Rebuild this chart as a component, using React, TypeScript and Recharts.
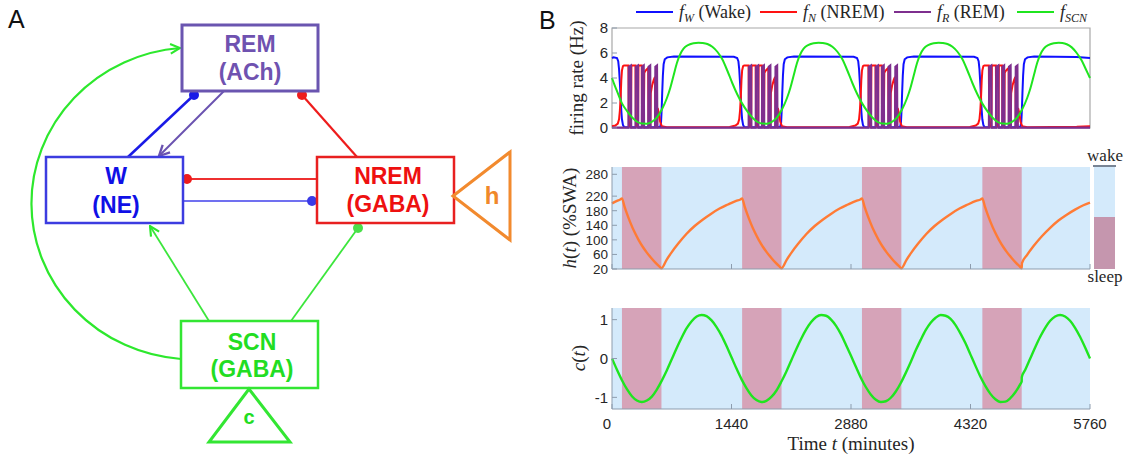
import React from "react";
import { ComposedChart, Line, XAxis, YAxis, ReferenceArea } from "recharts";

// sleep episodes, minutes
const sleepStart = [120, 1568, 3012, 4463];
const sleepEnd = [596, 2043, 3487, 4937];

const timeTicks = [0, 1440, 2880, 4320, 5760];
const rateTicks = [0, 2, 4, 6, 8];
const hTicks = [20, 60, 100, 140, 180, 220, 280];
const cTicks = [-1, 0, 1];

// [t, value]
const fW = [
  [0, 5.6], [20, 5.66], [60, 5.6], [75, 5.35], [85, 4.7], [95, 3.6], [105, 2.3], [112, 1.4], [120, 0.7], [132, 0.25], [145, 0.08],
  [200, 0.06], [215, 0.35], [230, 0.06], [285, 0.06], [300, 0.35], [315, 0.06], [357, 0.06], [372, 0.35], [387, 0.06],
  [435, 0.06], [450, 0.35], [465, 0.06], [517, 0.06], [532, 0.35], [547, 0.06],
  [581, 0.1], [591, 0.45], [598, 1.4], [605, 2.8], [613, 4.2], [622, 5.1], [636, 5.5], [666, 5.65], [746, 5.72], [1468, 5.7],
  [1508, 5.6], [1523, 5.35], [1533, 4.7], [1543, 3.6], [1553, 2.3], [1560, 1.4], [1568, 0.7], [1580, 0.25], [1593, 0.08],
  [1648, 0.06], [1663, 0.35], [1678, 0.06], [1733, 0.06], [1748, 0.35], [1763, 0.06], [1805, 0.06], [1820, 0.35], [1835, 0.06],
  [1883, 0.06], [1898, 0.35], [1913, 0.06], [1965, 0.06], [1980, 0.35], [1995, 0.06],
  [2028, 0.1], [2038, 0.45], [2045, 1.4], [2052, 2.8], [2060, 4.2], [2069, 5.1], [2083, 5.5], [2113, 5.65], [2193, 5.72], [2912, 5.7],
  [2952, 5.6], [2967, 5.35], [2977, 4.7], [2987, 3.6], [2997, 2.3], [3004, 1.4], [3012, 0.7], [3024, 0.25], [3037, 0.08],
  [3092, 0.06], [3107, 0.35], [3122, 0.06], [3177, 0.06], [3192, 0.35], [3207, 0.06], [3249, 0.06], [3264, 0.35], [3279, 0.06],
  [3327, 0.06], [3342, 0.35], [3357, 0.06], [3409, 0.06], [3424, 0.35], [3439, 0.06],
  [3472, 0.1], [3482, 0.45], [3489, 1.4], [3496, 2.8], [3504, 4.2], [3513, 5.1], [3527, 5.5], [3557, 5.65], [3637, 5.72], [4363, 5.7],
  [4403, 5.6], [4418, 5.35], [4428, 4.7], [4438, 3.6], [4448, 2.3], [4455, 1.4], [4463, 0.7], [4475, 0.25], [4488, 0.08],
  [4543, 0.06], [4558, 0.35], [4573, 0.06], [4628, 0.06], [4643, 0.35], [4658, 0.06], [4700, 0.06], [4715, 0.35], [4730, 0.06],
  [4778, 0.06], [4793, 0.35], [4808, 0.06], [4860, 0.06], [4875, 0.35], [4890, 0.06],
  [4922, 0.1], [4932, 0.45], [4939, 1.4], [4946, 2.8], [4954, 4.2], [4963, 5.1], [4977, 5.5], [5007, 5.65], [5087, 5.72],
  [5600, 5.68], [5760, 5.6],
];

const fN = [
  [0, 0.15], [40, 0.2], [70, 0.35], [85, 0.7], [95, 1.4], [105, 2.6], [112, 3.8], [120, 4.6], [132, 4.95], [145, 5.0],
  [198, 5.0], [203, 0.2], [228, 0.1], [234, 4.9], [240, 5.0], [283, 5.0], [288, 0.2], [313, 0.1], [319, 4.9], [325, 5.0],
  [358, 5.0], [363, 0.2], [383, 0.1], [389, 4.4], [400, 4.55], [420, 4.7], [436, 4.8],
  [441, 0.2], [461, 0.1], [467, 2.8], [483, 3.4], [503, 3.85], [518, 4.1],
  [523, 0.15], [543, 0.1], [550, 1.6], [565, 1.2], [580, 0.5], [600, 0.15], [660, 0.06],
  [1418, 0.08], [1488, 0.2], [1518, 0.35], [1533, 0.7], [1543, 1.4], [1553, 2.6], [1560, 3.8], [1568, 4.6], [1580, 4.95], [1593, 5.0],
  [1646, 5.0], [1651, 0.2], [1676, 0.1], [1682, 4.9], [1688, 5.0], [1731, 5.0], [1736, 0.2], [1761, 0.1], [1767, 4.9], [1773, 5.0],
  [1806, 5.0], [1811, 0.2], [1831, 0.1], [1837, 4.4], [1848, 4.55], [1868, 4.7], [1884, 4.8],
  [1889, 0.2], [1909, 0.1], [1915, 2.8], [1931, 3.4], [1951, 3.85], [1966, 4.1],
  [1971, 0.15], [1991, 0.1], [1998, 1.6], [2013, 1.2], [2028, 0.5], [2048, 0.15], [2108, 0.06],
  [2862, 0.08], [2932, 0.2], [2962, 0.35], [2977, 0.7], [2987, 1.4], [2997, 2.6], [3004, 3.8], [3012, 4.6], [3024, 4.95], [3037, 5.0],
  [3090, 5.0], [3095, 0.2], [3120, 0.1], [3126, 4.9], [3132, 5.0], [3175, 5.0], [3180, 0.2], [3205, 0.1], [3211, 4.9], [3217, 5.0],
  [3250, 5.0], [3255, 0.2], [3275, 0.1], [3281, 4.4], [3292, 4.55], [3312, 4.7], [3328, 4.8],
  [3333, 0.2], [3353, 0.1], [3359, 2.8], [3375, 3.4], [3395, 3.85], [3410, 4.1],
  [3415, 0.15], [3435, 0.1], [3442, 1.6], [3457, 1.2], [3472, 0.5], [3492, 0.15], [3552, 0.06],
  [4313, 0.08], [4383, 0.2], [4413, 0.35], [4428, 0.7], [4438, 1.4], [4448, 2.6], [4455, 3.8], [4463, 4.6], [4475, 4.95], [4488, 5.0],
  [4541, 5.0], [4546, 0.2], [4571, 0.1], [4577, 4.9], [4583, 5.0], [4626, 5.0], [4631, 0.2], [4656, 0.1], [4662, 4.9], [4668, 5.0],
  [4701, 5.0], [4706, 0.2], [4726, 0.1], [4732, 4.4], [4743, 4.55], [4763, 4.7], [4779, 4.8],
  [4784, 0.2], [4804, 0.1], [4810, 2.8], [4826, 3.4], [4846, 3.85], [4861, 4.1],
  [4866, 0.15], [4886, 0.1], [4893, 1.6], [4908, 1.2], [4923, 0.5], [4943, 0.15], [5003, 0.06],
  [5600, 0.1], [5760, 0.15],
];

const fR = [
  [0, 0.03],
  [199, 0.03], [203, 4.9], [227, 5.0], [231, 0.03], [284, 0.03], [288, 4.9], [312, 5.0], [316, 0.03],
  [359, 0.03], [363, 4.9], [382, 5.0], [386, 0.03], [437, 0.03], [441, 4.9], [460, 5.0], [464, 0.03],
  [519, 0.03], [523, 4.9], [542, 5.0], [546, 0.03],
  [1647, 0.03], [1651, 4.9], [1675, 5.0], [1679, 0.03], [1732, 0.03], [1736, 4.9], [1760, 5.0], [1764, 0.03],
  [1807, 0.03], [1811, 4.9], [1830, 5.0], [1834, 0.03], [1885, 0.03], [1889, 4.9], [1908, 5.0], [1912, 0.03],
  [1967, 0.03], [1971, 4.9], [1990, 5.0], [1994, 0.03],
  [3091, 0.03], [3095, 4.9], [3119, 5.0], [3123, 0.03], [3176, 0.03], [3180, 4.9], [3204, 5.0], [3208, 0.03],
  [3251, 0.03], [3255, 4.9], [3274, 5.0], [3278, 0.03], [3329, 0.03], [3333, 4.9], [3352, 5.0], [3356, 0.03],
  [3411, 0.03], [3415, 4.9], [3434, 5.0], [3438, 0.03],
  [4542, 0.03], [4546, 4.9], [4570, 5.0], [4574, 0.03], [4627, 0.03], [4631, 4.9], [4655, 5.0], [4659, 0.03],
  [4702, 0.03], [4706, 4.9], [4725, 5.0], [4729, 0.03], [4780, 0.03], [4784, 4.9], [4803, 5.0], [4807, 0.03],
  [4862, 0.03], [4866, 4.9], [4885, 5.0], [4889, 0.03],
  [5760, 0.03],
];

const fSCN = [
  [0, 4.0], [30, 3.45], [60, 2.95], [122, 1.95], [182, 1.35], [242, 0.85], [302, 0.5], [362, 0.36], [422, 0.35], [482, 0.5],
  [542, 0.85], [602, 1.5], [662, 2.4], [702, 3.2], [742, 4.2], [782, 5.2], [822, 5.9], [862, 6.35], [922, 6.65], [982, 6.78],
  [1042, 6.82], [1086, 6.8], [1149, 6.72], [1209, 6.5], [1269, 6.1], [1329, 5.5], [1389, 4.6], [1449, 3.6], [1509, 2.7],
  [1569, 1.95], [1629, 1.35], [1689, 0.85], [1749, 0.5], [1809, 0.36], [1869, 0.35], [1929, 0.5], [1989, 0.85], [2049, 1.5],
  [2109, 2.4], [2149, 3.2], [2189, 4.2], [2229, 5.2], [2269, 5.9], [2309, 6.35], [2369, 6.65], [2429, 6.78], [2489, 6.82],
  [2533, 6.8], [2596, 6.72], [2656, 6.5], [2716, 6.1], [2776, 5.5], [2836, 4.6], [2896, 3.6], [2956, 2.7], [3016, 1.95],
  [3076, 1.35], [3136, 0.85], [3196, 0.5], [3256, 0.36], [3316, 0.35], [3376, 0.5], [3436, 0.85], [3496, 1.5], [3556, 2.4],
  [3596, 3.2], [3636, 4.2], [3676, 5.2], [3716, 5.9], [3756, 6.35], [3816, 6.65], [3876, 6.78], [3936, 6.82], [3980, 6.8],
  [4043, 6.72], [4103, 6.5], [4163, 6.1], [4223, 5.5], [4283, 4.6], [4343, 3.6], [4403, 2.7], [4463, 1.95], [4523, 1.35],
  [4583, 0.85], [4643, 0.5], [4703, 0.36], [4763, 0.35], [4823, 0.5], [4883, 0.85], [4943, 1.5], [5003, 2.4], [5043, 3.2],
  [5083, 4.2], [5123, 5.2], [5163, 5.9], [5203, 6.35], [5263, 6.65], [5323, 6.78], [5383, 6.82], [5427, 6.8], [5480, 6.7],
  [5540, 6.45], [5600, 6.0], [5660, 5.4], [5710, 4.7], [5760, 4.0],
];

const hSWA = [
  [0, 200], [60, 207], [100, 211], [120, 214], [150, 192], [180, 172], [220, 148], [270, 122], [320, 100], [370, 81],
  [420, 65], [470, 51], [520, 38], [570, 27], [596, 22], [656, 44.6], [716, 65], [796, 89], [896, 116], [996, 138],
  [1096, 156], [1196, 172], [1296, 186], [1396, 197], [1496, 207], [1548, 211], [1568, 214], [1598, 192], [1628, 172],
  [1668, 148], [1718, 122], [1768, 100], [1818, 81], [1868, 65], [1918, 51], [1968, 38], [2018, 27], [2043, 22],
  [2103, 44.6], [2163, 65], [2243, 89], [2343, 116], [2443, 138], [2543, 156], [2643, 172], [2743, 186], [2843, 197],
  [2943, 207], [2992, 211], [3012, 214], [3042, 192], [3072, 172], [3112, 148], [3162, 122], [3212, 100], [3262, 81],
  [3312, 65], [3362, 51], [3412, 38], [3462, 27], [3487, 22], [3547, 44.6], [3607, 65], [3687, 89], [3787, 116],
  [3887, 138], [3987, 156], [4087, 172], [4187, 186], [4287, 197], [4387, 207], [4443, 211], [4463, 214], [4493, 192],
  [4523, 172], [4563, 148], [4613, 122], [4663, 100], [4713, 81], [4763, 65], [4813, 51], [4863, 38], [4913, 27],
  [4937, 22], [4940, 36], [5000, 58], [5080, 83], [5180, 110], [5280, 133], [5380, 153], [5480, 169], [5580, 183],
  [5680, 195], [5760, 202],
];

const cDrive = [
  [0, 0], [60, -0.29], [120, -0.56], [180, -0.79], [240, -0.97], [300, -1.08], [360, -1.12], [420, -1.08], [480, -0.98],
  [540, -0.8], [600, -0.57], [660, -0.31], [720, -0.02], [780, 0.27], [840, 0.54], [900, 0.78], [960, 0.96], [1020, 1.08],
  [1080, 1.12], [1140, 1.09], [1200, 0.98], [1260, 0.81], [1320, 0.59], [1380, 0.32], [1440, 0.03], [1500, -0.26],
  [1560, -0.53], [1620, -0.76], [1680, -0.95], [1740, -1.07], [1800, -1.12], [1860, -1.09], [1920, -0.99], [1980, -0.83],
  [2040, -0.6], [2100, -0.34], [2160, -0.05], [2220, 0.24], [2280, 0.51], [2340, 0.75], [2400, 0.94], [2460, 1.07],
  [2520, 1.12], [2580, 1.1], [2640, 1.0], [2700, 0.84], [2760, 0.62], [2820, 0.35], [2880, 0.07], [2940, -0.22],
  [3000, -0.5], [3060, -0.74], [3120, -0.93], [3180, -1.06], [3240, -1.12], [3300, -1.1], [3360, -1.01], [3420, -0.85],
  [3480, -0.63], [3540, -0.37], [3600, -0.09], [3660, 0.21], [3720, 0.48], [3780, 0.73], [3840, 0.92], [3900, 1.05],
  [3960, 1.12], [4020, 1.1], [4080, 1.02], [4140, 0.86], [4200, 0.64], [4260, 0.39], [4320, 0.1], [4380, -0.19],
  [4440, -0.47], [4500, -0.71], [4560, -0.91], [4620, -1.05], [4680, -1.12], [4740, -1.11], [4800, -1.02], [4860, -0.87],
  [4920, -0.66], [4937, -0.59], [4938, -0.48], [4980, -0.29], [5040, 0], [5100, 0.29], [5160, 0.56], [5220, 0.79],
  [5280, 0.97], [5340, 1.08], [5400, 1.12], [5460, 1.08], [5520, 0.97], [5580, 0.79], [5640, 0.56], [5700, 0.29], [5760, 0],
];

const rows = (pts: number[][]) => pts.map(([t, v]) => ({ t, v }));

const axisGray = "#8d9cad";
const frameGray = "#a8a8a8";
const textDark = "#262626";
const skyBlue = "#d4eafb";
const sleepPink = "#d6a3b8";
const sans = "'Liberation Sans', Arial, sans-serif";
const serif = "'Liberation Serif', 'DejaVu Serif', serif";

const makeYTick = (size: number) => (props: any) => {
  const { x, y, payload } = props;
  return (
    <g>
      <line x1={x + 4} x2={x + 9} y1={y} y2={y} stroke={axisGray} />
      <text x={x} y={y} dy="0.36em" textAnchor="end" fontSize={size} fontFamily={sans} fill={textDark}>
        {payload.value}
      </text>
    </g>
  );
};
const yTick = makeYTick(15);
const yTickDense = makeYTick(13.5);

const xTickMarks = (props: any) => {
  const { x, y } = props;
  return <line x1={x} x2={x} y1={y} y2={y - 5} stroke={axisGray} />;
};

const xTickLabeled = (props: any) => {
  const { x, y, payload } = props;
  return (
    <g>
      <line x1={x} x2={x} y1={y} y2={y - 5} stroke={axisGray} />
      <text x={payload.value === 0 ? x - 5 : x} y={y + 20} textAnchor="middle" fontSize={15} fontFamily={sans} fill={textDark}>
        {payload.value}
      </text>
    </g>
  );
};

const chartBox = { position: "absolute" as const, left: 540 };
const chartMargin = { right: 30, bottom: 0, left: 0 };

function RatePanel() {
  return (
    <div style={{ ...chartBox, top: 0 }}>
      <ComposedChart width={580} height={140} margin={{ ...chartMargin, top: 28 }}>
        <XAxis type="number" dataKey="t" domain={[0, 5760]} ticks={timeTicks} height={12} tick={false} axisLine={false} tickLine={false} />
        <YAxis type="number" domain={[0, 8]} ticks={rateTicks} width={72} tick={yTick} tickSize={0} tickMargin={4} axisLine={false} interval={0} />
        <ReferenceArea x1={0} x2={5760} y1={0} y2={8} fill="none" stroke={frameGray} strokeWidth={1.2} />
        <Line data={rows(fW)} dataKey="v" type="linear" stroke="#1010ff" strokeWidth={2} dot={false} activeDot={false} isAnimationActive={false} />
        <Line data={rows(fN)} dataKey="v" type="linear" stroke="#ff1212" strokeWidth={2} dot={false} activeDot={false} isAnimationActive={false} />
        <Line data={rows(fR)} dataKey="v" type="linear" stroke="#7e2f8e" strokeWidth={2.2} dot={false} activeDot={false} isAnimationActive={false} />
        <Line data={rows(fSCN)} dataKey="v" type="monotone" stroke="#1fe51f" strokeWidth={2} dot={false} activeDot={false} isAnimationActive={false} />
      </ComposedChart>
    </div>
  );
}

function HomeostatPanel() {
  return (
    <div style={{ ...chartBox, top: 150 }}>
      <ComposedChart width={580} height={130} margin={{ ...chartMargin, top: 17 }}>
        <XAxis type="number" dataKey="t" domain={[0, 5760]} ticks={timeTicks} height={11} tick={xTickMarks} tickSize={0} tickMargin={0} interval={0} stroke={axisGray} />
        <YAxis type="number" domain={[20, 300]} ticks={hTicks} width={72} tick={yTickDense} tickSize={0} tickMargin={4} interval={0} stroke={axisGray} />
        <ReferenceArea x1={0} x2={5760} y1={20} y2={300} fill={skyBlue} fillOpacity={1} stroke="none" />
        {sleepStart.map((s, i) => (
          <ReferenceArea key={s} x1={s} x2={sleepEnd[i]} y1={20} y2={300} fill={sleepPink} fillOpacity={1} stroke="none" />
        ))}
        <Line data={rows(hSWA)} dataKey="v" type="monotone" stroke="#ff7b35" strokeWidth={2.4} dot={false} activeDot={false} isAnimationActive={false} />
      </ComposedChart>
    </div>
  );
}

function CircadianPanel() {
  return (
    <div style={{ ...chartBox, top: 290 }}>
      <ComposedChart width={580} height={166} margin={{ ...chartMargin, top: 18 }}>
        <XAxis type="number" dataKey="t" domain={[0, 5760]} ticks={timeTicks} height={47} tick={xTickLabeled} tickSize={0} tickMargin={0} interval={0} stroke={axisGray} />
        <YAxis type="number" domain={[-1.3, 1.3]} ticks={cTicks} width={72} tick={yTick} tickSize={0} tickMargin={4} interval={0} stroke={axisGray} />
        <ReferenceArea x1={0} x2={5760} y1={-1.3} y2={1.3} fill={skyBlue} fillOpacity={1} stroke="none" />
        {sleepStart.map((s, i) => (
          <ReferenceArea key={s} x1={s} x2={sleepEnd[i]} y1={-1.3} y2={1.3} fill={sleepPink} fillOpacity={1} stroke="none" />
        ))}
        <Line data={rows(cDrive)} dataKey="v" type="monotone" stroke="#1fe51f" strokeWidth={2.4} dot={false} activeDot={false} isAnimationActive={false} />
      </ComposedChart>
    </div>
  );
}

function LegendItem({ x, color, sub, name }: { x: number; color: string; sub: string; name: string }) {
  return (
    <g>
      <line x1={x} x2={x + 37} y1={12} y2={12} stroke={color} strokeWidth={2} />
      <text x={x + 43} y={18} fontSize={18} fontFamily={serif} fill={textDark}>
        <tspan fontStyle="italic">f</tspan>
        <tspan fontStyle="italic" fontSize={12} dy={4}>{sub}</tspan>
        <tspan dy={-4}>{name}</tspan>
      </text>
    </g>
  );
}

function Overlay() {
  return (
    <svg width={1127} height={456} style={{ position: "absolute", left: 0, top: 0 }}>
      {/* panel B decorations */}
      <text x={539} y={29} fontSize={25} fontFamily={sans} fill="#111">B</text>
      <LegendItem x={636} color="#1010ff" sub="W" name=" (Wake)" />
      <LegendItem x={760} color="#ff1212" sub="N" name=" (NREM)" />
      <LegendItem x={894} color="#7e2f8e" sub="R" name=" (REM)" />
      <LegendItem x={1017} color="#1fe51f" sub="SCN" name="" />
      <text transform="translate(576,78) rotate(-90)" textAnchor="middle" dy="0.35em" fontSize={19} fontFamily={serif} fill={textDark}>
        firing rate (Hz)
      </text>
      <text transform="translate(569,218) rotate(-90)" textAnchor="middle" dy="0.35em" fontSize={19} fontFamily={serif} fill={textDark}>
        <tspan fontStyle="italic">h</tspan>(<tspan fontStyle="italic">t</tspan>) (%SWA)
      </text>
      <text transform="translate(578,358) rotate(-90)" textAnchor="middle" dy="0.35em" fontSize={19} fontFamily={serif} fill={textDark}>
        <tspan fontStyle="italic">c</tspan>(<tspan fontStyle="italic">t</tspan>)
      </text>
      <text x={851} y={450} textAnchor="middle" fontSize={19} fontFamily={serif} fill={textDark}>
        Time <tspan fontStyle="italic">t</tspan> (minutes)
      </text>
      <rect x={1094} y={167} width={21} height={50} fill={skyBlue} />
      <rect x={1094} y={217} width={21} height={52} fill="#c596ae" />
      <line x1={1093} x2={1116} y1={166} y2={166} stroke="#4b5b70" strokeWidth={1.5} />
      <text x={1105} y={161} textAnchor="middle" fontSize={17} fontFamily={serif} fill={textDark}>wake</text>
      <text x={1105} y={282} textAnchor="middle" fontSize={17} fontFamily={serif} fill={textDark}>sleep</text>

      {/* panel A: network diagram */}
      <defs>
        <marker id="arrPurple" viewBox="0 0 10 10" refX="9" refY="5" markerWidth="13" markerHeight="13" markerUnits="userSpaceOnUse" orient="auto">
          <path d="M1,1 L9,5 L1,9" fill="none" stroke="#6a52b0" strokeWidth="1.8" />
        </marker>
        <marker id="arrGreen" viewBox="0 0 10 10" refX="9" refY="5" markerWidth="12" markerHeight="12" markerUnits="userSpaceOnUse" orient="auto">
          <path d="M1,1 L9,5 L1,9" fill="none" stroke="#2de82d" strokeWidth="1.8" />
        </marker>
      </defs>
      <text x={8} y={28} fontSize={25} fontFamily={sans} fill="#111">A</text>
      <path d="M181 359 A 162 156 0 0 1 180 48" fill="none" stroke="#2de82d" strokeWidth={2.2} markerEnd="url(#arrGreen)" />
      <line x1={128} y1={157} x2={194} y2={95} stroke="#1a1ae6" strokeWidth={2.5} />
      <circle cx={194} cy={95} r={5} fill="#1a1ae6" />
      <line x1={224} y1={91} x2={159} y2={156} stroke="#6a52b0" strokeWidth={2} markerEnd="url(#arrPurple)" />
      <line x1={357} y1={157} x2={302} y2={95} stroke="#ee1c1c" strokeWidth={2.2} />
      <circle cx={302} cy={95} r={5} fill="#ee1c1c" />
      <line x1={317} y1={179} x2={187} y2={179} stroke="#ee3030" strokeWidth={1.8} />
      <circle cx={187} cy={179} r={5} fill="#ee1c1c" />
      <line x1={183} y1={201} x2={312} y2={201} stroke="#7070f0" strokeWidth={2} />
      <circle cx={312} cy={201} r={5} fill="#3a3ae6" />
      <line x1={209} y1={321} x2={150} y2={226} stroke="#3ce63c" strokeWidth={1.8} markerEnd="url(#arrGreen)" />
      <line x1={291} y1={321} x2={358} y2={228} stroke="#3ce63c" strokeWidth={1.8} />
      <circle cx={358} cy={228} r={5} fill="#4ae04a" />

      <rect x={182} y={25} width={136} height={66} fill="#fff" stroke="#6a55b0" strokeWidth={3} />
      <text x={250} y={52} textAnchor="middle" fontSize={23} fontWeight="bold" fontFamily={sans} fill="#6f52b0">REM</text>
      <text x={250} y={80} textAnchor="middle" fontSize={23} fontWeight="bold" fontFamily={sans} fill="#6f52b0">(ACh)</text>

      <rect x={46} y={157} width={137} height={66} fill="#fff" stroke="#3c3ce0" strokeWidth={2.5} />
      <text x={116} y={184} textAnchor="middle" fontSize={23} fontWeight="bold" fontFamily={sans} fill="#1010e6">W</text>
      <text x={116} y={213} textAnchor="middle" fontSize={23} fontWeight="bold" fontFamily={sans} fill="#1010e6">(NE)</text>

      <rect x={317} y={157} width={137} height={66} fill="#fff" stroke="#e82020" strokeWidth={2.5} />
      <text x={388} y={184} textAnchor="middle" fontSize={23} fontWeight="bold" fontFamily={sans} fill="#ee1010">NREM</text>
      <text x={388} y={212} textAnchor="middle" fontSize={23} fontWeight="bold" fontFamily={sans} fill="#ee1010">(GABA)</text>

      <rect x={181} y={321} width={137} height={67} fill="#fff" stroke="#33e633" strokeWidth={2.5} />
      <text x={252} y={350} textAnchor="middle" fontSize={23} fontWeight="bold" fontFamily={sans} fill="#22dd22">SCN</text>
      <text x={252} y={377} textAnchor="middle" fontSize={23} fontWeight="bold" fontFamily={sans} fill="#22dd22">(GABA)</text>

      <polygon points="453,196 510,152 510,240" fill="none" stroke="#f28a2e" strokeWidth={3} />
      <text x={492} y={204} textAnchor="middle" fontSize={24} fontWeight="bold" fontFamily={sans} fill="#f0882a">h</text>
      <polygon points="249,389 209,442 290,442" fill="none" stroke="#33e633" strokeWidth={3} />
      <text x={249} y={424} textAnchor="middle" fontSize={20} fontWeight="bold" fontFamily={sans} fill="#22dd22">c</text>
    </svg>
  );
}

export default function App() {
  return (
    <div style={{ position: "absolute", left: 0, top: 0, width: 1127, height: 456, background: "#fff" }}>
      <Overlay />
      <RatePanel />
      <HomeostatPanel />
      <CircadianPanel />
    </div>
  );
}
